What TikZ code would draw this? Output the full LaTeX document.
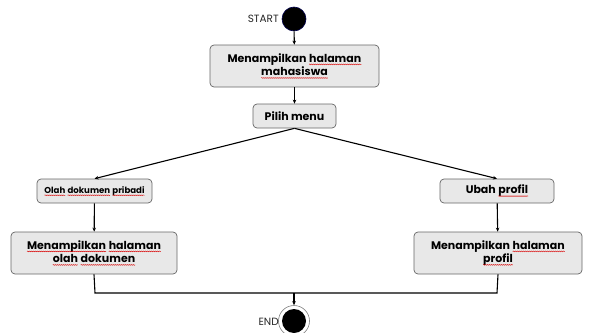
\documentclass[tikz,border=0pt]{standalone}
\usepackage{fontspec}
\setmainfont{Poppins}
\usetikzlibrary{arrows.meta,decorations.pathmorphing}
% spell-check style wavy underline under one word
\tikzset{
  wword/.style={draw=none, fill=none, minimum width=0pt, minimum height=0pt,
    inner sep=0pt, outer sep=0pt, rounded corners=0pt, align=left, shape=rectangle},
  wline/.style={draw=red!85!black, line width=0.4pt, rounded corners=0pt, decorate,
    decoration={snake, amplitude=0.45pt, segment length=2pt}}
}
\newcommand{\wv}[1]{\tikz[baseline=(w.base)]{\node[wword] (w) {#1};
  \path[wline] ([yshift=-2.2pt]w.base west) -- ([yshift=-2.2pt]w.base east);}}
\tikzset{
  act/.style={draw=black!60, fill=black!9, rounded corners=4pt, line width=0.7pt,
    align=center, inner sep=0pt, font=\bfseries\fontsize{11}{13.5}\selectfont},
  flow/.style={line width=1.1pt, -{Stealth[length=4pt,width=3.5pt]}},
  plain/.style={line width=1.1pt},
  lbl/.style={font=\fontsize{10.5}{12}\selectfont, text=black!85, inner sep=0pt}
}
\begin{document}
\begin{tikzpicture}[x=1pt,y=-1pt]
\useasboundingbox (0,0) rectangle (589,332);
% start and end markers
\node[circle, fill=black, draw=black!70!blue, line width=0.6pt, minimum size=24pt, inner sep=0pt] (start) at (294,19) {};
\node[lbl, anchor=east] (startlbl) at (279,19) {START};
\node[circle, draw=black!50, line width=0.6pt, minimum size=31pt, inner sep=0pt] (endring) at (294,321) {};
\node[circle, fill=black, minimum size=24pt, inner sep=0pt] (end) at (294,321) {};
\node[lbl, anchor=east] (endlbl) at (279,322) {END};
% activities
\node[act, minimum width=169pt, minimum height=42pt] (b1) at (294.5,66) {Menampilkan \wv{halaman}\\\wv{mahasiswa}};
\node[act, minimum width=83pt, minimum height=24pt] (b2) at (294.5,116) {Pilih menu};
\node[act, minimum width=115pt, minimum height=24pt, font=\bfseries\fontsize{8.6}{10}\selectfont] (bl) at (94.5,191) {\wv{Olah} \wv{dokumen} \wv{pribadi}};
\node[act, minimum width=166pt, minimum height=42pt] (bl2) at (94,253) {\wv{Menampilkan} \wv{halaman}\\\wv{olah} \wv{dokumen}};
\node[act, minimum width=114pt, minimum height=24pt] (br) at (497,191) {Ubah \wv{profil}};
\node[act, minimum width=168pt, minimum height=42pt] (br2) at (498,253) {Menampilkan \wv{halaman}\\\wv{profil}};
% merge bar
\coordinate (ml) at (95,293);
\coordinate (mr) at (497,293);
\coordinate (mm) at (294,293);
% connectors
\draw[flow] (start) -- (b1);
\draw[flow] (b1) -- (b2);
\draw[flow] (b2.south) -- (bl.north);
\draw[flow] (b2.south) -- (br.north);
\draw[flow] (bl) -- (bl2);
\draw[flow] (br) -- (br2);
\draw[plain] (bl2.south) -- (ml) -- (mr) -- (br2.south);
\draw[flow] (mm) -- (endring.north);
\end{tikzpicture}
\end{document}
